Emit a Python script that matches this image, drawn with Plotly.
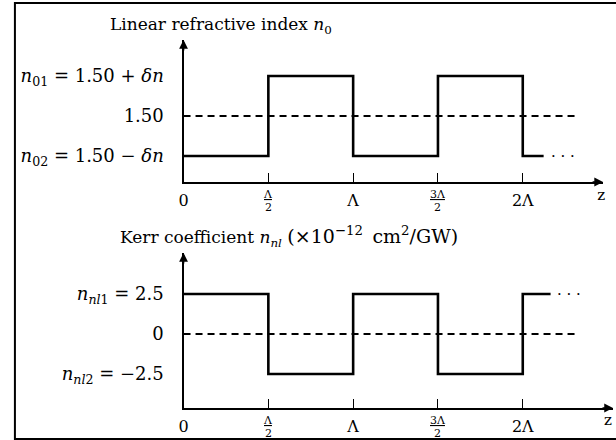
import plotly.graph_objects as go

# ---------------- data ----------------
# positions along z in units of the period Lambda
z_steps = [0, 0.5, 1, 1.5, 2]
z_end_top = 2.123
z_end_bot = 2.164
z_dash_end = 2.32

# linear refractive index levels (schematic, delta n = 0.1)
n0_mid = 1.50
n01 = 1.60
n02 = 1.40
n0_levels = [n02, n01, n02, n01, n02]

# Kerr coefficient levels (x1e-12 cm^2/GW)
nnl_mid = 0.0
nnl1 = 2.5
nnl2 = -2.5
nnl_levels = [nnl1, nnl2, nnl1, nnl2, nnl1]

x_tickvals = [0, 0.5, 1, 1.5, 2]
x_ticktext = ['0', '', 'Λ', '', '2Λ']
frac_vals = [0.5, 1.5]
frac_num = ['Λ', '3Λ']
frac_den = ['2', '2']

top_yticktext = ['<i>n</i><sub>01</sub> = 1.50 + <i>δn</i>', '1.50',
                 '<i>n</i><sub>02</sub> = 1.50 − <i>δn</i>']
bot_yticktext = ['<i>n<sub>nl</sub></i><sub>1</sub> = 2.5', '0',
                 '<i>n<sub>nl</sub></i><sub>2</sub> = −2.5']

title_top = 'Linear refractive index <i>n</i><sub>0</sub>'
title_bot = ('Kerr coefficient <i>n<sub>nl</sub></i> '
             '<span style="font-size:19px">(×10<sup>−12</sup>\u2002cm<sup>2</sup>/GW)</span>')
axis_name = 'z'

# ---------------- layout geometry (pixels) ----------------
W, H = 616, 440
FONT = 'DejaVu Serif'
px_per_L = 171.0
x0_px = 180

def py(p):
    return (H - p) / H

def px(p):
    return p / W

# top panel: axis line at 182 px, arrow tip at 40 px; value v -> 116 - (v-1.5)*400
def top_val(p):
    return n0_mid + (116 - p) / 400.0

# bottom panel: axis at 408 px, tip at 253 px; value v -> 334 - v*16
def bot_val(p):
    return nnl_mid + (334 - p) / 16.0

def zpos(p):
    return (p - x0_px) / px_per_L

fig = go.Figure()

line_style = dict(color='black', width=2.6)
dash_style = dict(color='black', width=2, dash='7px,5px')

# top panel
fig.add_trace(go.Scatter(x=z_steps + [z_end_top], y=n0_levels + [n0_levels[-1]],
                         mode='lines', line=line_style, line_shape='hv',
                         xaxis='x', yaxis='y', hoverinfo='skip'))
fig.add_trace(go.Scatter(x=[0, z_dash_end], y=[n0_mid, n0_mid], mode='lines',
                         line=dash_style, xaxis='x', yaxis='y', hoverinfo='skip'))
# bottom panel
fig.add_trace(go.Scatter(x=z_steps + [z_end_bot], y=nnl_levels + [nnl_levels[-1]],
                         mode='lines', line=line_style, line_shape='hv',
                         xaxis='x2', yaxis='y2', hoverinfo='skip'))
fig.add_trace(go.Scatter(x=[0, z_dash_end], y=[nnl_mid, nnl_mid], mode='lines',
                         line=dash_style, xaxis='x2', yaxis='y2', hoverinfo='skip'))

# axis name "z" below each arrow tip, on an invisible full-page overlay axis (pixel units)
zfont = dict(family=FONT, size=15, color='black')
fig.add_trace(go.Scatter(x=[601, 608], y=[196, 421], mode='text',
                         text=[axis_name, axis_name], textposition='middle center',
                         textfont=zfont, cliponaxis=False,
                         xaxis='x3', yaxis='y3', hoverinfo='skip'))

xcommon = dict(showgrid=False, zeroline=False, showline=True, linecolor='black',
               linewidth=2.4, ticks='inside', ticklen=9, tickwidth=1, tickcolor='black',
               tickvals=x_tickvals, ticktext=x_ticktext, tickangle=0,
               tickfont=dict(family=FONT, size=16, color='black'),
               ticklabelstandoff=3, fixedrange=True)
ycommon = dict(showgrid=False, zeroline=False, showline=True, linecolor='black',
               linewidth=2.4, ticks='', tickfont=dict(family=FONT, size=18, color='black'),
               ticklabelstandoff=14, fixedrange=True)
hidden = dict(visible=False, showgrid=False, zeroline=False, fixedrange=True)

top_tip_x = 603
bot_tip_x = 613

fig.update_layout(
    width=W, height=H, margin=dict(l=0, r=0, t=0, b=0),
    paper_bgcolor='white', plot_bgcolor='rgba(0,0,0,0)', showlegend=False,
    xaxis=dict(domain=[px(x0_px), px(top_tip_x)],
               range=[0, zpos(top_tip_x)], anchor='y', **xcommon),
    yaxis=dict(domain=[py(182), py(40)], range=[top_val(182), top_val(40)],
               anchor='x', tickvals=[n01, n0_mid, n02], ticktext=top_yticktext, **ycommon),
    xaxis2=dict(domain=[px(x0_px), px(bot_tip_x)],
                range=[0, zpos(bot_tip_x)], anchor='y2', **xcommon),
    yaxis2=dict(domain=[py(408), py(253)], range=[bot_val(408), bot_val(253)],
                anchor='x2', tickvals=[nnl1, nnl_mid, nnl2], ticktext=bot_yticktext, **ycommon),
    xaxis3=dict(domain=[0, 1], range=[0, W], anchor='y3', **hidden),
    yaxis3=dict(domain=[0, 1], range=[H, 0], anchor='x3', **hidden),
)

ann = []
tfont = dict(family=FONT, size=17, color='black')
ann.append(dict(text=title_top, xref='paper', yref='paper', x=px(104), y=py(26),
                xanchor='left', yanchor='middle', showarrow=False, font=tfont))
ann.append(dict(text=title_bot, xref='paper', yref='paper', x=px(114), y=py(236),
                xanchor='left', yanchor='middle', showarrow=False, font=tfont))
# arrowheads
for xa, ya in (('x', 'y'), ('x2', 'y2')):
    ann.append(dict(xref=xa + ' domain', yref=ya + ' domain', x=0, y=1, ax=0, ay=12,
                    showarrow=True, arrowhead=2, arrowsize=1.1, arrowwidth=1.6,
                    arrowcolor='black', text=''))
    ann.append(dict(xref=xa + ' domain', yref=ya + ' domain', x=1, y=0, ax=-12, ay=0,
                    showarrow=True, arrowhead=2, arrowsize=1.1, arrowwidth=1.6,
                    arrowcolor='black', text=''))
# fraction tick labels
ffont = dict(family=FONT, size=11, color='black')
for xa, ya in (('x', 'y'), ('x2', 'y2')):
    for v, num, den in zip(frac_vals, frac_num, frac_den):
        ann.append(dict(xref=xa, yref=ya + ' domain', x=v, y=0, yshift=-12,
                        text='<u>' + num + '</u>', showarrow=False, font=ffont,
                        xanchor='center', yanchor='middle'))
        ann.append(dict(xref=xa, yref=ya + ' domain', x=v, y=0, yshift=-25,
                        text=den, showarrow=False, font=ffont,
                        xanchor='center', yanchor='middle'))
# continuation dots
dfont = dict(family=FONT, size=15, color='black')
ann.append(dict(xref='x', yref='y', x=2.24, y=n02, text='· · ·', showarrow=False, font=dfont))
ann.append(dict(xref='x2', yref='y2', x=2.275, y=nnl1, text='· · ·', showarrow=False, font=dfont))
fig.update_layout(annotations=ann)

# frame (left, top, bottom edges; right side runs off the picture)
fig.add_shape(type='path', xref='paper', yref='paper',
              path=f'M 1.1 {py(3)} L {px(10)} {py(3)} L {px(10)} {py(439)} L 1.1 {py(439)}',
              line=dict(color='black', width=2))

fig.write_html('out.html')
